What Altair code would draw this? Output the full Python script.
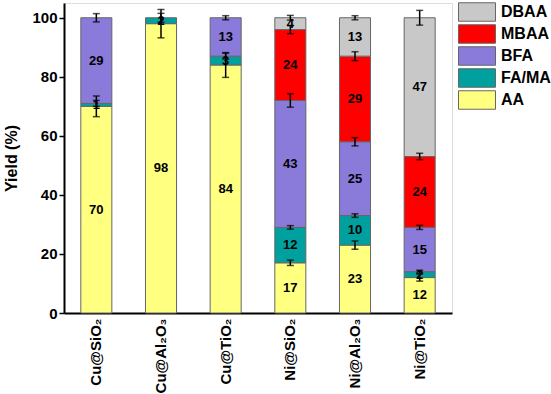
import altair as alt
import pandas as pd

# Product yields (%) per catalyst, bottom-to-top stacking order
catalysts = ["Cu@SiO₂", "Cu@Al₂O₃", "Cu@TiO₂", "Ni@SiO₂", "Ni@Al₂O₃", "Ni@TiO₂"]
components = ["AA", "FA/MA", "BFA", "MBAA", "DBAA"]
colors = ["#ffff80", "#00a09f", "#8a7ada", "#ff0000", "#c8c8c8"]

aa = [70, 98, 84, 17, 23, 12]
fa_ma = [1, 2, 3, 12, 10, 2]
bfa = [29, 0, 13, 43, 25, 15]
mbaa = [0, 0, 0, 24, 29, 24]
dbaa = [0, 0, 0, 4, 13, 47]

# Error (±) at the top of each stacked segment
aa_err = [3.5, 4.8, 4.2, 0.9, 1.4, 1.2]
fa_ma_err = [1.0, 1.5, 1.0, 0.6, 0.6, 0.5]
bfa_err = [1.4, 0, 0.7, 2.3, 1.4, 0.7]
mbaa_err = [0, 0, 0, 1.4, 1.5, 1.1]
dbaa_err = [0, 0, 0, 0.8, 0.7, 2.5]

values = [aa, fa_ma, bfa, mbaa, dbaa]
errors = [aa_err, fa_ma_err, bfa_err, mbaa_err, dbaa_err]

rows = []
for ci, comp in enumerate(components):
    for gi, cat in enumerate(catalysts):
        rows.append({"catalyst": cat, "component": comp, "order": ci,
                     "value": values[ci][gi], "err": errors[ci][gi]})
df = pd.DataFrame(rows)

font = "Liberation Sans"

base = (
    alt.Chart(df)
    .transform_filter("datum.value > 0")
    .transform_stack(stack="value", groupby=["catalyst"], as_=["lo", "hi"],
                     sort=[alt.SortField("order", order="ascending")])
    .transform_calculate(mid="(datum.lo + datum.hi) / 2",
                         elo="datum.hi - datum.err", ehi="datum.hi + datum.err")
)

x_enc = alt.X("catalyst:N", sort=catalysts, title=None,
              scale=alt.Scale(paddingInner=0.52, paddingOuter=0.26),
              axis=alt.Axis(labelAngle=-90, labelFont=font, labelFontSize=15,
                            labelFontWeight="bold", labelColor="black",
                            ticks=False, labelPadding=5, domainColor="black",
                            domainWidth=2))
y_scale = alt.Scale(domain=[0, 105], nice=False)

# Wide legend swatch: path spans 4x2 units, laid out on a 2x2 footprint
swatch = "M-2,-1L2,-1L2,1L-2,1Z"

bars = base.mark_bar(stroke="#666666", strokeWidth=1).encode(
    x=x_enc,
    y=alt.Y("lo:Q", scale=y_scale, title="Yield (%)",
            axis=alt.Axis(values=[0, 20, 40, 60, 80, 100], grid=False,
                          labelFont=font, labelFontSize=15, labelFontWeight="bold",
                          labelColor="black", tickColor="black", tickWidth=1.5,
                          tickSize=5, labelPadding=2, domainColor="black",
                          domainWidth=2, titleFont=font, titleFontSize=16,
                          titleFontWeight="bold", titleColor="black",
                          titlePadding=12)),
    y2="hi:Q",
    color=alt.Color("component:N", sort=components[::-1],
                    scale=alt.Scale(domain=components[::-1], range=colors[::-1]),
                    legend=alt.Legend(title=None, orient="none", legendX=403,
                                      legendY=-1, symbolType=swatch,
                                      symbolSize=342, symbolStrokeColor="#666666",
                                      symbolStrokeWidth=1, labelFont=font,
                                      labelFontSize=16, labelFontWeight="bold",
                                      labelColor="black", rowPadding=-3.5,
                                      labelOffset=14)),
)

labels = base.mark_text(font=font, fontSize=13, fontWeight="bold", color="black").encode(
    x=alt.X("catalyst:N", sort=catalysts),
    y=alt.Y("mid:Q"),
    text=alt.Text("value:Q"),
)

err_rule = base.transform_filter("datum.err > 0").mark_rule(color="black", strokeWidth=1.5).encode(
    x=alt.X("catalyst:N", sort=catalysts),
    y=alt.Y("elo:Q"),
    y2="ehi:Q",
)
cap_lo = base.transform_filter("datum.err > 0").mark_tick(color="black", size=7, thickness=1.5).encode(
    x=alt.X("catalyst:N", sort=catalysts),
    y=alt.Y("elo:Q"),
)
cap_hi = base.transform_filter("datum.err > 0").mark_tick(color="black", size=7, thickness=1.5).encode(
    x=alt.X("catalyst:N", sort=catalysts),
    y=alt.Y("ehi:Q"),
)

chart = (
    alt.layer(bars, labels, err_rule, cap_lo, cap_hi)
    .properties(width=388, height=310,
                autosize=alt.AutoSizeParams(type="none"),
                padding={"left": 64, "top": 3, "right": 99, "bottom": 81})
    .configure_view(stroke="black", strokeWidth=2)
    .configure(background="white")
)

chart.save("out.html", embed_options={"renderer": "svg", "actions": False})
